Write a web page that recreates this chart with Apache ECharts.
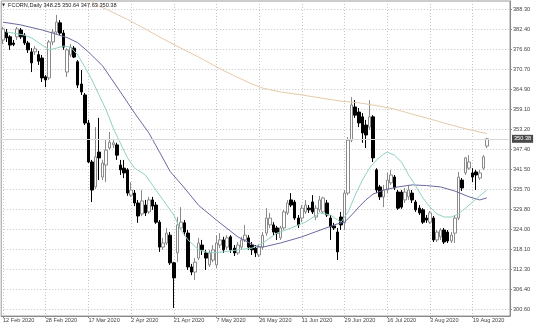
<!DOCTYPE html>
<html><head><meta charset="utf-8">
<script src="https://cdn.jsdelivr.net/npm/echarts@6/dist/echarts.min.js"></script>
<style>html,body{margin:0;padding:0;background:#fff}#c{width:536px;height:326px}</style>
</head><body><div id="c"></div>
<script>
const symbolName = 'FCORN,Daily';
const firstDay = '2020-02-12';
const holidays = ['2020-04-10', '2020-05-25', '2020-07-03'];
const emptySlots = 6;
// [open, close, low, high]
const ohlc = [
[379.3,382.5,378.1,383.1],[381.6,379.9,378.7,382.5],[380.2,377.8,376.4,380.7],[378.4,378.0,377.5,379.3],
[380.2,382.5,379.3,383.1],[382.2,380.2,379.6,382.8],[380.7,378.4,377.8,381.3],[378.4,376.4,375.5,379.0],
[375.8,372.6,369.9,376.9],[375.8,376.7,374.9,377.5],[375.0,373.1,372.0,376.1],[374.0,368.2,367.0,374.9],
[368.5,367.6,365.5,369.0],[368.2,378.7,367.6,379.3],[378.7,381.6,377.8,382.5],[381.6,384.5,381.0,386.6],
[384.3,381.3,380.7,385.1],[381.3,377.2,376.4,382.2],[369.9,376.4,368.5,376.9],[374.9,377.2,374.3,378.1],
[376.9,374.3,374.0,377.5],[372.9,366.1,365.2,373.4],[366.4,364.1,363.2,370.5],[363.2,355.0,354.4,363.8],
[355.0,343.6,343.3,355.9],[343.6,335.4,331.9,344.2],[336.3,345.1,335.7,353.8],[346.5,344.8,338.3,356.5],
[339.2,343.3,338.3,344.2],[342.7,347.1,337.7,350.0],[347.7,349.4,347.1,352.4],[348.6,349.2,347.7,350.0],
[348.6,345.6,344.2,349.2],[342.7,341.3,339.8,344.2],[341.8,340.4,338.9,344.2],[341.3,334.5,333.7,341.8],
[333.9,335.4,333.4,337.7],[334.5,331.6,330.7,335.4],[331.6,327.8,325.8,332.5],[328.4,332.2,327.8,335.4],
[331.0,328.7,327.8,332.5],[329.0,332.5,328.4,333.4],[332.5,330.7,329.6,333.4],[331.0,326.0,325.5,331.9],
[326.0,318.7,317.3,326.6],[318.7,319.9,317.9,321.4],[319.9,322.8,319.3,324.3],[322.2,314.1,313.5,323.1],
[314.1,309.7,300.9,314.4],[317.0,325.2,314.3,327.5],[324.3,326.0,323.7,330.4],[325.8,323.1,322.0,326.6],
[322.8,312.9,312.0,323.7],[312.9,311.4,310.5,313.8],[311.4,314.3,309.1,315.5],[315.5,319.9,314.9,321.4],
[319.3,317.9,316.4,320.8],[317.0,315.5,312.0,317.9],[313.5,317.0,312.9,317.9],[314.9,317.9,314.3,319.3],
[313.5,319.9,312.6,322.2],[319.3,320.8,318.4,322.8],[320.8,317.9,317.0,321.7],[318.7,321.4,317.9,322.2],
[321.7,317.9,317.0,322.2],[318.4,317.0,316.1,319.3],[317.0,319.3,316.4,320.2],[318.7,320.8,317.9,321.7],
[320.8,322.2,320.2,325.2],[321.4,318.7,317.9,322.2],[319.3,317.9,316.4,320.2],[318.4,317.0,315.8,319.3],
[316.4,318.7,315.8,319.6],[318.7,322.2,317.9,323.1],[322.8,327.2,322.0,330.1],[325.2,327.2,324.3,328.7],
[325.2,323.1,322.2,326.0],[324.3,322.8,320.8,324.9],[321.4,324.3,320.8,324.9],[324.3,329.0,323.7,329.6],
[328.7,331.6,328.1,332.5],[332.5,331.0,330.4,334.5],[331.9,327.2,326.6,332.5],[327.2,325.2,324.3,328.1],
[327.2,330.1,326.0,331.0],[329.0,331.0,328.4,332.5],[330.1,329.6,328.7,331.0],[331.9,329.0,328.4,333.9],
[327.5,330.1,326.6,331.0],[329.6,332.5,329.0,333.7],[329.0,333.1,328.7,333.4],[331.6,328.1,327.5,332.5],
[327.2,324.6,320.8,328.1],[324.9,324.3,323.7,325.8],[323.1,317.3,314.9,324.3],[327.5,325.2,323.7,329.0],
[325.8,334.5,323.7,335.4],[334.5,350.0,333.9,350.9],[350.0,360.3,349.4,362.6],[359.7,357.3,356.5,361.7],
[358.2,355.0,353.8,359.4],[356.8,352.1,349.2,357.9],[354.4,351.5,347.7,355.9],[353.8,356.8,353.0,361.7],
[356.8,344.8,343.6,357.3],[341.3,335.4,334.5,341.8],[336.3,333.4,332.5,336.9],[333.4,335.4,330.4,336.9],
[335.4,338.3,334.5,340.4],[337.5,339.8,336.9,341.3],[339.2,336.0,335.4,339.8],[334.8,330.1,329.6,335.4],
[334.8,330.4,329.9,335.4],[332.5,334.8,331.6,336.0],[333.4,335.4,332.5,336.9],[334.5,332.5,331.6,335.4],
[331.9,329.6,329.0,332.5],[330.1,328.7,328.1,331.0],[329.6,326.0,325.5,330.1],[327.2,326.6,325.8,328.1],
[326.0,328.7,325.5,329.3],[327.2,320.8,320.2,327.8],[320.8,323.1,320.2,323.7],[321.7,323.7,320.8,324.3],
[323.7,320.2,319.6,324.3],[323.1,320.5,319.9,323.7],[320.5,322.2,319.9,323.1],[322.8,327.2,319.9,328.1],
[327.2,339.2,326.6,340.7],[338.3,336.0,335.1,338.9],[340.4,344.8,339.8,345.1],[341.8,343.6,341.3,345.6],
[340.4,339.2,337.7,341.8],[340.7,339.8,335.4,341.3],[338.9,340.4,338.3,341.3],[341.8,345.1,341.3,345.6],
[348.25,350.38,347.63,350.64]
];
// moving averages: [bar index, value]
const maFast = [[1,381.6],[3,381.3],[6,380.7],[8,379.9],[11,377.8],[13,376.4],[15,376.9],[17,377.5],[19,377.2],
[21,374.9],[23,371.4],[25,367.6],[27,363.2],[29,358.8],[31,353.5],[33,349.1],[35,344.8],[37,341.8],[40,339.8],
[43,335.4],[46,331.0],[48,328.1],[50,323.7],[52,320.8],[55,317.9],[58,317.0],[62,317.3],[66,317.9],[70,318.4],
[73,319.9],[77,322.8],[81,324.3],[85,326.0],[89,328.7],[92,328.1],[95,326.0],[97,329.0],[99,333.9],[101,338.3],
[103,341.8],[105,344.2],[107,345.9],[108,346.5],[110,345.6],[112,343.6],[114,339.8],[116,336.6],[118,333.1],
[120,330.4],[122,328.4],[124,327.5],[126,327.5],[128,328.4],[130,330.1],[132,331.9],[134,333.7],[136,335.4]];
const maSlow = [[0,384.5],[5,383.7],[11,382.2],[14,381.3],[18,380.0],[21,378.5],[24,375.8],[28,371.7],[33,364.1],
[37,357.9],[41,352.1],[44,346.5],[47,340.8],[51,336.0],[55,330.9],[60,326.6],[66,321.7],[71,319.0],[73,318.7],
[78,319.9],[84,321.7],[90,324.0],[94,325.5],[96,326.0],[98,328.1],[100,330.4],[102,332.5],[104,334.2],[107,335.4],
[111,336.3],[115,336.9],[119,336.7],[123,336.3],[127,335.1],[131,333.4],[134,332.5],[136,333.1]];
const maLong = [[23,392.0],[26,389.7],[30,387.8],[35,385.3],[40,382.5],[45,379.6],[50,376.9],[55,374.3],[60,371.4],
[65,368.8],[70,366.4],[73,365.2],[78,364.1],[84,363.2],[90,362.2],[95,361.4],[100,360.9],[105,360.1],[110,359.1],
[115,357.6],[120,356.2],[125,354.7],[130,353.3],[136,351.9]];
const priceTicks = [300.6,306.4,312.3,318.1,324.0,329.8,335.7,341.5,347.4,353.2,359.1,364.9,370.7,376.6,382.4,388.3];
const yMin = 298.55, yMax = 390.69;
const labelEvery = 12;

const months = ['Jan','Feb','Mar','Apr','May','Jun','Jul','Aug','Sep','Oct','Nov','Dec'];
const dates = [];
{
  const d = new Date(firstDay + 'T00:00:00Z');
  while (dates.length < ohlc.length) {
    const iso = d.toISOString().slice(0, 10);
    const wd = d.getUTCDay();
    if (wd !== 0 && wd !== 6 && holidays.indexOf(iso) < 0) {
      dates.push(d.getUTCDate() + ' ' + months[d.getUTCMonth()] + ' ' + d.getUTCFullYear());
    }
    d.setUTCDate(d.getUTCDate() + 1);
  }
}
const cats = dates.concat(new Array(emptySlots).fill(''));
const showIdx = (i) => i % labelEvery === 0 && i < dates.length;
const last = ohlc[ohlc.length - 1];
const header = symbolName + ' ' + [last[0], last[3], last[2], last[1]].map(v => v.toFixed(2)).join(' ');
const FONT = 'Liberation Sans';
const grid = '#c6c6c6';

const chart = echarts.init(document.getElementById('c'), null, {renderer: 'canvas'});
chart.setOption({
  animation: false,
  backgroundColor: '#fff',
  grid: {left: 0, right: 26, top: 1, bottom: 10, show: true, borderColor: '#9a9a9a', borderWidth: 1, backgroundColor: '#fff'},
  graphic: [
    {type: 'text', left: 2, top: 3, z: 100, style: {text: '▼', fontSize: 4, fill: '#333', fontFamily: 'DejaVu Sans'}},
    {type: 'text', left: 8, top: 2, z: 100, style: {text: header, fontSize: 5.6, fill: '#222', fontFamily: FONT}}
  ],
  xAxis: {
    type: 'category', data: cats, boundaryGap: true,
    axisLine: {show: true, lineStyle: {color: '#8a8a8a', width: 1}},
    axisTick: {show: true, alignWithLabel: true, interval: showIdx, length: 2, lineStyle: {color: '#8a8a8a'}},
    axisLabel: {interval: showIdx, align: 'left', margin: 1.5, fontSize: 5.6, color: '#444', fontFamily: FONT},
    splitLine: {show: true, interval: showIdx, alignWithLabel: true, lineStyle: {color: grid, type: [1, 2], width: 1}}
  },
  yAxis: {
    type: 'value', position: 'right', min: yMin, max: yMax, scale: true,
    axisLine: {show: true, lineStyle: {color: '#8a8a8a', width: 1}},
    axisTick: {show: true, customValues: priceTicks, length: 2, lineStyle: {color: '#8a8a8a'}},
    axisLabel: {customValues: priceTicks, formatter: v => v.toFixed(2), fontSize: 5.6, margin: 3, color: '#444', fontFamily: FONT},
    splitLine: {show: true, lineStyle: {color: grid, type: [1, 2], width: 1}}
  },
  series: [
    {
      type: 'candlestick', data: ohlc, barWidth: 3, z: 2,
      itemStyle: {color: '#ffffff', color0: '#000000', borderColor: '#8a8a8a', borderColor0: '#000000', borderWidth: 1},
      markLine: {
        silent: true, symbol: 'none', animation: false,
        lineStyle: {color: '#dadada', type: 'solid', width: 1},
        label: {position: 'end', formatter: last[1].toFixed(2), backgroundColor: '#4a4a4a', color: '#fff',
                fontSize: 5.6, padding: [1, 2, 1, 2], distance: 2, fontFamily: FONT},
        data: [{yAxis: last[1]}]
      }
    },
    {type: 'line', data: maLong, symbol: 'none', z: 3, lineStyle: {color: '#e4cba8', width: 1}, itemStyle: {color: '#e4cba8'}},
    {type: 'line', data: maSlow, symbol: 'none', z: 3, lineStyle: {color: '#6a6aa2', width: 1}, itemStyle: {color: '#6a6aa2'}},
    {type: 'line', data: maFast, symbol: 'none', z: 3, lineStyle: {color: '#92d0c4', width: 1}, itemStyle: {color: '#92d0c4'}}
  ]
});
</script></body></html>
